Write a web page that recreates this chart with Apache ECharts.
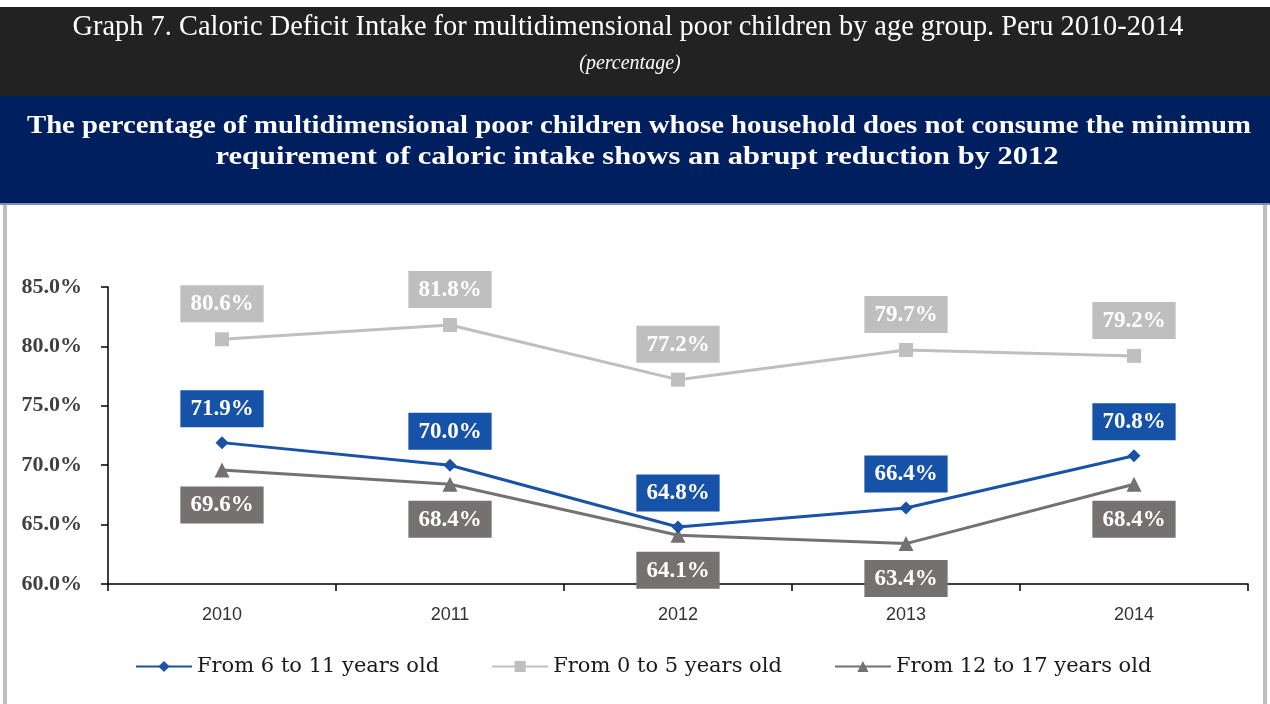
<!DOCTYPE html>
<html>
<head>
<meta charset="utf-8">
<script src="https://cdn.jsdelivr.net/npm/echarts@6/dist/echarts.min.js"></script>
<style>
html,body{margin:0;padding:0;background:#fff;}
#chart{width:1270px;height:704px;}
</style>
</head>
<body>
<div id="chart"></div>
<script>
const years = ['2010', '2011', '2012', '2013', '2014'];
const seriesNames = ['From 6 to 11 years old', 'From 0 to 5 years old', 'From 12 to 17 years old'];
const age6to11 = [71.9, 70.0, 64.8, 66.4, 70.8];
const age0to5 = [80.6, 81.8, 77.2, 79.7, 79.2];
const age12to17 = [69.6, 68.4, 64.1, 63.4, 68.4];
const yTicks = [60, 65, 70, 75, 80, 85];

const SERIF = '"Liberation Serif", "DejaVu Serif", serif';
const chart = echarts.init(document.getElementById('chart'), null, {renderer: 'canvas'});

function lbl(color, pos, dist) {
  return {
    show: true, position: pos, distance: dist,
    formatter: p => p.value.toFixed(1) + '%',
    backgroundColor: color, color: '#fff',
    fontFamily: SERIF, fontWeight: 'bold', fontSize: 23,
    padding: [7, 10, 6, 10], lineHeight: 24
  };
}

chart.setOption({
  animation: false,
  backgroundColor: '#ffffff',
  graphic: [
    {type: 'rect', shape: {x: 0, y: 7, width: 1270, height: 90}, style: {fill: '#222222'}, z: -1},
    {type: 'rect', shape: {x: 0, y: 96, width: 1270, height: 108}, style: {fill: '#001F5F'}, z: -1},
    {type: 'rect', shape: {x: 0, y: 203, width: 1270, height: 2}, style: {fill: '#7F8FB8'}, z: -1},
    {type: 'rect', shape: {x: 3, y: 205, width: 4, height: 499}, style: {fill: '#BFBFBF'}, z: -1},
    {type: 'rect', shape: {x: 1263, y: 205, width: 4, height: 499}, style: {fill: '#BFBFBF'}, z: -1},
    {type: 'text', x: 628, y: 28, style: {text: 'Graph 7. Caloric Deficit Intake for multidimensional poor children by age group. Peru 2010-2014', fill: '#ffffff', font: '28.4px ' + SERIF, textAlign: 'center', textVerticalAlign: 'middle'}},
    {type: 'text', x: 630, y: 64, style: {text: '(percentage)', fill: '#ffffff', font: 'italic 20px ' + SERIF, textAlign: 'center', textVerticalAlign: 'middle'}},
    {type: 'text', x: 639, y: 127, scaleX: 1.15, style: {text: 'The percentage of multidimensional poor children whose household does not consume the minimum', fill: '#ffffff', font: 'bold 25px ' + SERIF, textAlign: 'center', textVerticalAlign: 'middle'}},
    {type: 'text', x: 637, y: 158, scaleX: 1.22, style: {text: 'requirement of caloric intake shows an abrupt reduction by 2012', fill: '#ffffff', font: 'bold 25px ' + SERIF, textAlign: 'center', textVerticalAlign: 'middle'}}
  ],
  legend: {
    left: 130, top: 651,
    itemWidth: 56, itemHeight: 14, itemGap: 52,
    textStyle: {fontFamily: '"DejaVu Serif", serif', fontSize: 21, color: '#1a1a1a'},
    data: seriesNames
  },
  grid: {left: 108, right: 22, top: 287, bottom: 120, containLabel: false},
  xAxis: {
    type: 'category', data: years, boundaryGap: true,
    axisLine: {lineStyle: {color: '#000', width: 1.5}},
    axisTick: {show: true, length: 7, alignWithLabel: false, lineStyle: {color: '#000', width: 1.5}},
    axisLabel: {fontFamily: '"Liberation Sans", sans-serif', fontSize: 18, color: '#333', margin: 22}
  },
  yAxis: {
    type: 'value', min: yTicks[0], max: yTicks[yTicks.length - 1], interval: 5,
    axisLine: {show: true, lineStyle: {color: '#000', width: 1.5}},
    axisTick: {show: true, length: 7, lineStyle: {color: '#000', width: 1.5}},
    splitLine: {show: false},
    axisLabel: {fontFamily: SERIF, fontSize: 22, fontWeight: 'bold', color: '#404040', margin: 26,
      formatter: v => v.toFixed(1) + '%'}
  },
  series: [
    {name: seriesNames[0], type: 'line', data: age6to11, symbol: 'diamond', symbolSize: 13,
      itemStyle: {color: '#1A52A8'}, lineStyle: {width: 3, color: '#1A52A8'},
      label: lbl('#1552A8', 'top', 9), z: 4},
    {name: seriesNames[1], type: 'line', data: age0to5, symbol: 'rect', symbolSize: 14,
      itemStyle: {color: '#BFBFBF'}, lineStyle: {width: 3, color: '#BFBFBF'},
      label: lbl('#BFBFBF', 'top', 10), z: 3},
    {name: seriesNames[2], type: 'line', data: age12to17, symbol: 'triangle', symbolSize: 15,
      itemStyle: {color: '#767171'}, lineStyle: {width: 3, color: '#767171'},
      label: lbl('#767171', 'bottom', 9), z: 3}
  ]
});
</script>
</body>
</html>
